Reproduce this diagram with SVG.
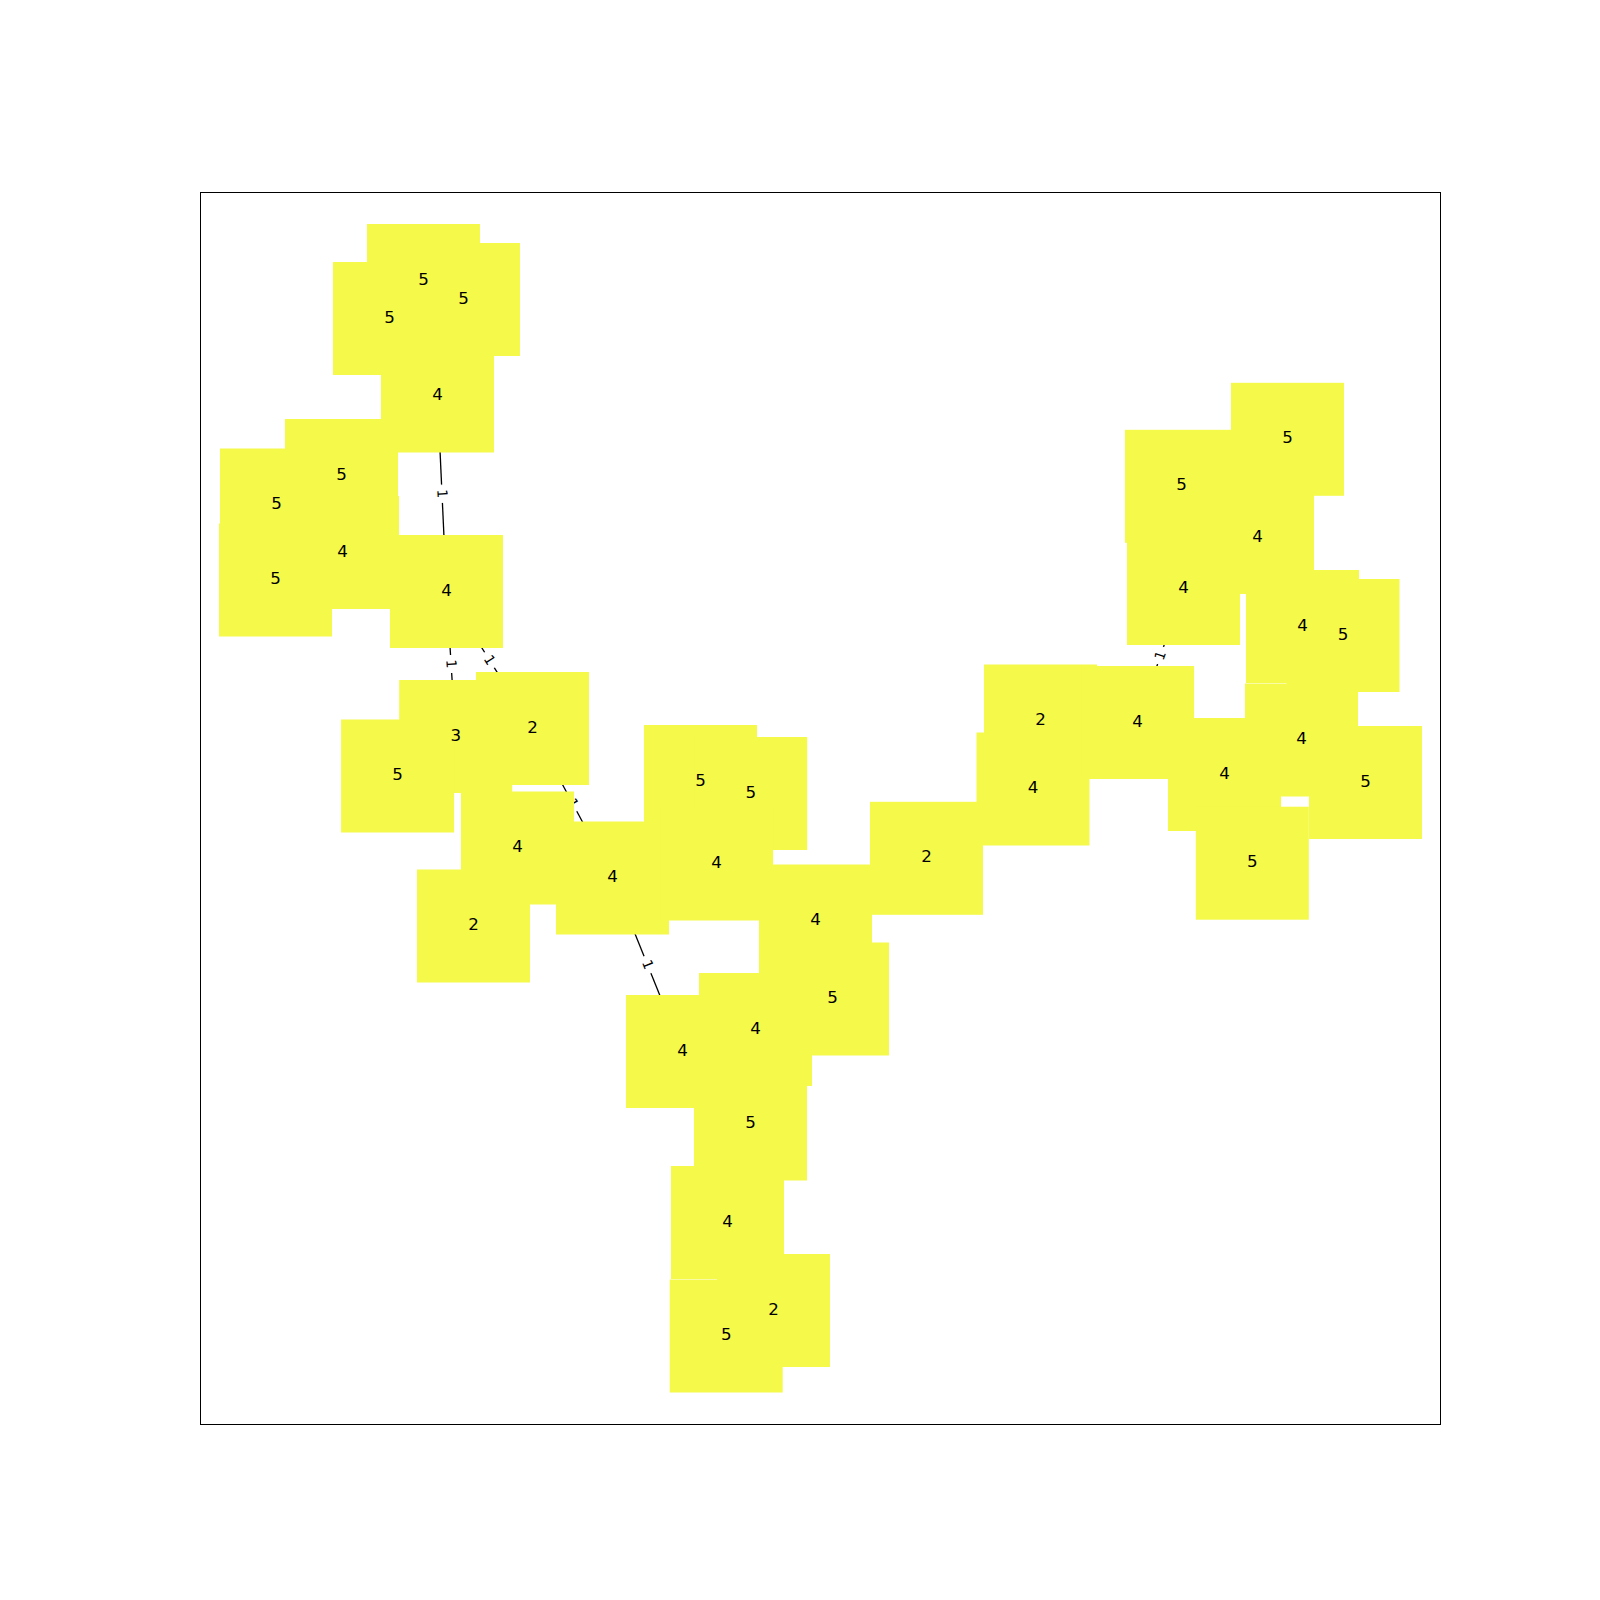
<svg xmlns="http://www.w3.org/2000/svg" width="1600" height="1600" viewBox="0 0 1600 1600">
<style>
.n text{font-family:"DejaVu Sans",sans-serif;font-size:16.7px;fill:#000;text-anchor:middle}
.e line{stroke:#000;stroke-width:1.3}
.e text{font-family:"DejaVu Sans",sans-serif;font-size:13.9px;fill:#000;text-anchor:middle}
</style>
<defs>
<rect id="sq" x="-56.5" y="-56.5" width="113" height="113" fill="#f4f94a"/>
<rect id="lb" x="-8.6" y="-12.3" width="17.2" height="24.6" rx="4.2" fill="#fff" stroke="#fff"/>
</defs>
<rect x="0" y="0" width="1600" height="1600" fill="#fff"/>
<g id="edges" class="e">
<line x1="437.5" y1="396" x2="446.5" y2="591.5"/>
<line x1="446.5" y1="591.5" x2="455.7" y2="736.5"/>
<line x1="446.5" y1="591.5" x2="532.5" y2="728.5"/>
<line x1="532.5" y1="728.5" x2="612.5" y2="878"/>
<line x1="612.5" y1="878" x2="682.5" y2="1051.5"/>
<line x1="1183.5" y1="588.5" x2="1137.6" y2="722.5"/>
<g transform="translate(442,493.75) rotate(87.36)"><use href="#lb"/><text y="4.5">1</text></g>
<g transform="translate(451.1,664) rotate(86.37)"><use href="#lb"/><text y="4.5">1</text></g>
<g transform="translate(489.5,660) rotate(57.88)"><use href="#lb"/><text y="4.5">1</text></g>
<g transform="translate(572.5,803.25) rotate(61.85)"><use href="#lb"/><text y="4.5">1</text></g>
<g transform="translate(647.5,964.75) rotate(68.03)"><use href="#lb"/><text y="4.5">1</text></g>
<g transform="translate(1160.55,655.5) rotate(-71.09)"><use href="#lb"/><text y="4.5">1</text></g>
</g>
<g id="nodes" class="n">
<g id="nA"><use href="#sq" x="423.5" y="280.5"/></g>
<g id="nB"><use href="#sq" x="463.5" y="299.5"/></g>
<g id="nC"><use href="#sq" x="389.5" y="318.5"/></g>
<g id="nD"><use href="#sq" x="437.5" y="396"/></g>
<g id="nE"><use href="#sq" x="341.5" y="475.5"/></g>
<g id="nF"><use href="#sq" x="276.5" y="505"/></g>
<g id="nG"><use href="#sq" x="342.5" y="552.5"/></g>
<g id="nH"><use href="#sq" x="275.5" y="580"/></g>
<g id="nI"><use href="#sq" x="446.5" y="591.5"/></g>
<g id="nJ"><use href="#sq" x="455.7" y="736.5"/></g>
<g id="nK"><use href="#sq" x="532.5" y="728.5"/></g>
<g id="nL"><use href="#sq" x="397.6" y="776"/></g>
<g id="nM"><use href="#sq" x="517.5" y="848"/></g>
<g id="nN"><use href="#sq" x="473.5" y="926"/></g>
<g id="nO"><use href="#sq" x="612.5" y="878"/></g>
<g id="nP"><use href="#sq" x="700.5" y="781.5"/></g>
<g id="nQ"><use href="#sq" x="750.7" y="793.5"/></g>
<g id="nR"><use href="#sq" x="716.6" y="864"/></g>
<g id="nS"><use href="#sq" x="815.5" y="921"/></g>
<g id="nT"><use href="#sq" x="832.5" y="999"/></g>
<g id="nU"><use href="#sq" x="755.5" y="1029.5"/></g>
<g id="nV"><use href="#sq" x="682.5" y="1051.5"/></g>
<g id="nW"><use href="#sq" x="750.5" y="1124"/></g>
<g id="nX"><use href="#sq" x="727.5" y="1222.5"/></g>
<g id="nY"><use href="#sq" x="773.5" y="1310.5"/></g>
<g id="nZ"><use href="#sq" x="726.2" y="1336"/></g>
<g id="na"><use href="#sq" x="926.5" y="858.3"/></g>
<g id="nb"><use href="#sq" x="1033" y="789"/></g>
<g id="nc"><use href="#sq" x="1040.5" y="721"/></g>
<g id="nd"><use href="#sq" x="1137.6" y="722.5"/></g>
<g id="ne"><use href="#sq" x="1224.5" y="774.5"/></g>
<g id="nf"><use href="#sq" x="1301.5" y="740"/></g>
<g id="ng"><use href="#sq" x="1365.5" y="782.5"/></g>
<g id="nh"><use href="#sq" x="1252.3" y="863.2"/></g>
<g id="ni"><use href="#sq" x="1287.5" y="439.3"/></g>
<g id="nj"><use href="#sq" x="1181.5" y="486.3"/></g>
<g id="nk"><use href="#sq" x="1257.5" y="537.5"/></g>
<g id="nl"><use href="#sq" x="1183.5" y="588.5"/></g>
<g id="nm"><use href="#sq" x="1302.5" y="626.5"/></g>
<g id="nn"><use href="#sq" x="1343" y="635.5"/></g>
</g>
<g id="labels" class="n">
<text x="423.5" y="284.5">5</text>
<text x="463.5" y="303.5">5</text>
<text x="389.5" y="322.5">5</text>
<text x="437.5" y="400">4</text>
<text x="341.5" y="479.5">5</text>
<text x="276.5" y="509">5</text>
<text x="342.5" y="556.5">4</text>
<text x="275.5" y="584">5</text>
<text x="446.5" y="595.5">4</text>
<text x="455.7" y="740.5">3</text>
<text x="532.5" y="732.5">2</text>
<text x="397.6" y="780">5</text>
<text x="517.5" y="852">4</text>
<text x="473.5" y="930">2</text>
<text x="612.5" y="882">4</text>
<text x="700.5" y="785.5">5</text>
<text x="750.7" y="797.5">5</text>
<text x="716.6" y="868">4</text>
<text x="815.5" y="925">4</text>
<text x="832.5" y="1003">5</text>
<text x="755.5" y="1033.5">4</text>
<text x="682.5" y="1055.5">4</text>
<text x="750.5" y="1128">5</text>
<text x="727.5" y="1226.5">4</text>
<text x="773.5" y="1314.5">2</text>
<text x="726.2" y="1340">5</text>
<text x="926.5" y="862.3">2</text>
<text x="1033" y="793">4</text>
<text x="1040.5" y="725">2</text>
<text x="1137.6" y="726.5">4</text>
<text x="1224.5" y="778.5">4</text>
<text x="1301.5" y="744">4</text>
<text x="1365.5" y="786.5">5</text>
<text x="1252.3" y="867.2">5</text>
<text x="1287.5" y="443.3">5</text>
<text x="1181.5" y="490.3">5</text>
<text x="1257.5" y="541.5">4</text>
<text x="1183.5" y="592.5">4</text>
<text x="1302.5" y="630.5">4</text>
<text x="1343" y="639.5">5</text>
</g>
<rect id="frame" x="200.5" y="192.5" width="1240" height="1232" fill="none" stroke="#000" stroke-width="1"/>
</svg>
